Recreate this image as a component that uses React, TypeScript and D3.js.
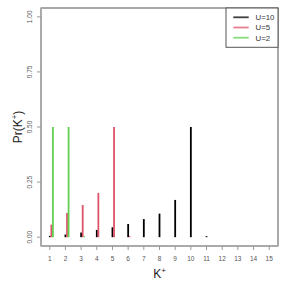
import React from "react";
import * as d3 from "d3";

const kValues = d3.range(1, 16);
const seriesNames = ["U=10", "U=5", "U=2"];
const seriesColors = ["#000000", "#DF536B", "#61D04F"];
// Pr(K+ = k) for k = 1..11
const u10 = [0.006, 0.012, 0.021, 0.033, 0.045, 0.06, 0.082, 0.107, 0.169, 0.5, 0.002];
const u5 = [0.057, 0.11, 0.146, 0.201, 0.5, 0.003];
const u2 = [0.5, 0.5, 0.003];
const seriesValues = [u10, u5, u2];
const seriesOffsets = [0, 0.1, 0.2];
const yTicks = [0, 0.25, 0.5, 0.75, 1];

export default function App() {
  const W = 287, H = 287;
  const L = 41, R = 278, T = 8, B = 246;
  const x = d3.scaleLinear().domain([0.44, 15.56]).range([L, R]);
  const y = d3.scaleLinear().domain([-0.04, 1.04]).range([B, T]);
  const font = "Liberation Sans, Arial, Helvetica, sans-serif";
  return (
    <svg width={W} height={H} style={{ position: "absolute", left: 0, top: 0, background: "#fff" }} fontFamily={font}>
      {/* bars */}
      {seriesValues.map((vals, si) =>
        vals.map((v, i) => (
          <line
            key={`${si}-${i}`}
            x1={x(i + 1 + seriesOffsets[si])}
            x2={x(i + 1 + seriesOffsets[si])}
            y1={y(0)}
            y2={Math.min(y(v), y(0) - 1)}
            stroke={seriesColors[si]}
            strokeWidth={1.8}
          />
        ))
      )}
      {/* box */}
      <rect x={L} y={T} width={R - L} height={B - T} fill="none" stroke="#555" strokeWidth={1} />
      {/* axes lines */}
      <line x1={L} x2={L} y1={T} y2={B} stroke="#aaa" strokeWidth={2} />
      <line x1={L} x2={R} y1={B} y2={B} stroke="#aaa" strokeWidth={2} />
      {/* y ticks */}
      {yTicks.map((t) => (
        <g key={t}>
          <line x1={L - 4} x2={L} y1={y(t)} y2={y(t)} stroke="#999" strokeWidth={1} />
          <text
            transform={`translate(${L - 9},${y(t)}) rotate(-90)`}
            textAnchor="middle"
            fontSize={6.5}
            fill="#555"
          >
            {t.toFixed(2)}
          </text>
        </g>
      ))}
      {/* x ticks */}
      {kValues.map((k) => (
        <g key={k}>
          <line x1={x(k)} x2={x(k)} y1={B} y2={B + 4} stroke="#999" strokeWidth={1} />
          <text x={x(k)} y={B + 15} textAnchor="middle" fontSize={6.5} fill="#555">
            {k}
          </text>
        </g>
      ))}
      {/* axis labels */}
      <text x={(L + R) / 2} y={278} textAnchor="middle" fontSize={12} fill="#222">
        K<tspan dy={-5} fontSize={8}>+</tspan>
      </text>
      <text transform={`translate(22,${(T + B) / 2}) rotate(-90)`} textAnchor="middle" fontSize={12} fill="#222">
        Pr(K<tspan dy={-5} fontSize={8}>+</tspan><tspan dy={5}>)</tspan>
      </text>
      {/* legend */}
      <rect x={226} y={T} width={R - 226} height={47.3 - T} fill="#fff" stroke="#555" strokeWidth={1} />
      {seriesNames.map((n, i) => (
        <g key={n}>
          <line x1={233.3} x2={248.7} y1={17.3 + i * 10.2} y2={17.3 + i * 10.2} stroke={seriesColors[i]} strokeWidth={1.8} opacity={0.75} />
          <text x={255.5} y={17.3 + i * 10.2 + 2.8} fontSize={7.8} fill="#333">
            {n}
          </text>
        </g>
      ))}
    </svg>
  );
}
